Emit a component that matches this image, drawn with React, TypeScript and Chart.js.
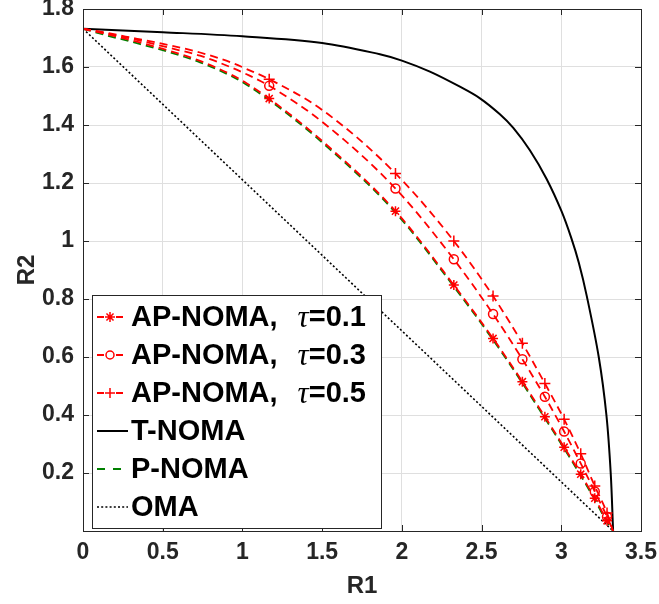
import React, { useEffect, useRef } from "react";
import { Chart, registerables } from "chart.js";

Chart.register(...registerables);

// ---------- data ----------
const X_TICKS = [0, 0.5, 1, 1.5, 2, 2.5, 3, 3.5];
const Y_TICKS = [0.2, 0.4, 0.6, 0.8, 1, 1.2, 1.4, 1.6, 1.8];

// R1 positions where markers are drawn on the AP-NOMA curves
const MARKER_R1 = [1.168, 1.96, 2.326, 2.572, 2.756, 2.897, 3.018, 3.122, 3.21, 3.287];

// shared R1 samples for AP-NOMA / P-NOMA curves
const AP_R1 = [0, 0.128, 0.332, 0.535, 0.734, 0.932, 1.026, 1.168, 1.5, 1.96, 2.326, 2.572, 2.756, 2.897, 3.018, 3.122, 3.21, 3.287, 3.325];
const AP01_R2 = [1.732, 1.716, 1.688, 1.657, 1.621, 1.573, 1.544, 1.491, 1.345, 1.103, 0.848, 0.664, 0.515, 0.394, 0.289, 0.196, 0.113, 0.035, 0];
const AP03_R2 = [1.732, 1.718, 1.694, 1.667, 1.639, 1.598, 1.575, 1.535, 1.411, 1.181, 0.937, 0.748, 0.592, 0.463, 0.343, 0.233, 0.136, 0.049, 0];
const AP05_R2 = [1.732, 1.72, 1.698, 1.676, 1.65, 1.615, 1.593, 1.558, 1.452, 1.233, 1.0, 0.81, 0.647, 0.509, 0.385, 0.266, 0.155, 0.062, 0];
const PNOMA_R2 = [1.732, 1.712, 1.683, 1.652, 1.616, 1.568, 1.539, 1.486, 1.34, 1.098, 0.843, 0.659, 0.51, 0.389, 0.284, 0.191, 0.108, 0.03, 0];

const TNOMA_R1 = [0, 0.5, 1.0, 1.5, 1.862, 2.0, 2.176, 2.364, 2.49, 2.615, 2.699, 2.803, 2.908, 3.002, 3.063, 3.11, 3.16, 3.235, 3.283, 3.31, 3.325];
const TNOMA_R2 = [1.732, 1.72, 1.706, 1.683, 1.644, 1.622, 1.584, 1.532, 1.492, 1.437, 1.39, 1.313, 1.214, 1.102, 1.01, 0.925, 0.81, 0.6, 0.4, 0.2, 0];

const OMA_R1 = [0, 3.325];
const OMA_R2 = [1.732, 0];

const LABELS = ["AP-NOMA, τ=0.1", "AP-NOMA, τ=0.3", "AP-NOMA, τ=0.5", "T-NOMA", "P-NOMA", "OMA"];

// ---------- helpers ----------
const pts = (xs: number[], ys: number[]) => xs.map((x, i) => ({ x, y: ys[i] }));
const isMarker = (x: number) => MARKER_R1.some((m) => Math.abs(m - x) < 1e-9);

const SANS = '"Liberation Sans", Arial, Helvetica, sans-serif';
const AXIS_COLOR = "#262626";
const RED = "#ff0000";
const GREEN = "#008000";

function drawMarker(ctx: CanvasRenderingContext2D, style: string, x: number, y: number, r: number) {
  ctx.beginPath();
  if (style === "circle") {
    ctx.arc(x, y, r, 0, Math.PI * 2);
  } else if (style === "cross") {
    ctx.moveTo(x - r, y); ctx.lineTo(x + r, y);
    ctx.moveTo(x, y - r); ctx.lineTo(x, y + r);
  } else if (style === "star") {
    ctx.moveTo(x - r, y); ctx.lineTo(x + r, y);
    ctx.moveTo(x, y - r); ctx.lineTo(x, y + r);
    const d = r * Math.SQRT1_2;
    ctx.moveTo(x - d, y - d); ctx.lineTo(x + d, y + d);
    ctx.moveTo(x - d, y + d); ctx.lineTo(x + d, y - d);
  }
  ctx.stroke();
}

const framePlugin = {
  id: "frameAndLegend",
  afterDraw(chart: any) {
    const ctx: CanvasRenderingContext2D = chart.ctx;
    const { left, right, top, bottom } = chart.chartArea;
    const xs = chart.scales.x;
    const ys = chart.scales.y;
    ctx.save();
    // box
    ctx.strokeStyle = AXIS_COLOR;
    ctx.lineWidth = 1;
    ctx.setLineDash([]);
    ctx.strokeRect(Math.round(left) + 0.5, Math.round(top) + 0.5, Math.round(right - left), Math.round(bottom - top));
    // inward ticks
    const tl = 6;
    ctx.beginPath();
    X_TICKS.forEach((v) => {
      const p = Math.round(xs.getPixelForValue(v)) + 0.5;
      ctx.moveTo(p, bottom); ctx.lineTo(p, bottom - tl);
      ctx.moveTo(p, top); ctx.lineTo(p, top + tl);
    });
    Y_TICKS.forEach((v) => {
      const p = Math.round(ys.getPixelForValue(v)) + 0.5;
      ctx.moveTo(left, p); ctx.lineTo(left + tl, p);
      ctx.moveTo(right, p); ctx.lineTo(right - tl, p);
    });
    ctx.stroke();

    // legend
    const bx = left + 9.5, by = top + 286.5, bw = 289, bh = 233;
    ctx.fillStyle = "#ffffff";
    ctx.fillRect(bx, by, bw, bh);
    ctx.strokeStyle = AXIS_COLOR;
    ctx.lineWidth = 1;
    ctx.strokeRect(bx, by, bw, bh);

    const sx0 = left + 14, textX = left + 48;
    const row0 = top + 308, rowGap = 38;
    chart.data.datasets.forEach((ds: any, i: number) => {
      const y = row0 + i * rowGap;
      ctx.strokeStyle = ds.borderColor;
      ctx.lineWidth = ds.borderWidth;
      ctx.setLineDash([]);
      if (ds.legendKind === "marker") {
        ctx.beginPath();
        ctx.moveTo(sx0, y); ctx.lineTo(sx0 + 7, y);
        ctx.moveTo(sx0 + 19, y); ctx.lineTo(sx0 + 26, y);
        ctx.stroke();
        ctx.lineWidth = 1.5;
        drawMarker(ctx, ds.pointStyle, sx0 + 13, y, ds.pointStyle === "circle" ? 4 : 5);
      } else if (ds.legendKind === "dash") {
        ctx.beginPath();
        ctx.moveTo(sx0, y); ctx.lineTo(sx0 + 8, y);
        ctx.moveTo(sx0 + 16, y); ctx.lineTo(sx0 + 24, y);
        ctx.stroke();
      } else {
        ctx.setLineDash(ds.borderDash || []);
        ctx.beginPath();
        ctx.moveTo(sx0, y); ctx.lineTo(sx0 + 31, y);
        ctx.stroke();
        ctx.setLineDash([]);
      }
      // text
      ctx.fillStyle = "#000000";
      ctx.textBaseline = "middle";
      ctx.textAlign = "left";
      const label: string = ds.label;
      const ti = label.indexOf("τ");
      const boldFont = `bold 29px ${SANS}`;
      if (ti >= 0) {
        const a = label.slice(0, ti).trimEnd();
        const b = label.slice(ti + 1);
        ctx.font = boldFont;
        ctx.fillText(a, textX, y + 1);
        let x = textX + ctx.measureText(a).width + 20;
        ctx.font = `italic 31px "Liberation Serif", "DejaVu Serif", serif`;
        ctx.fillText("τ", x, y + 2);
        x += ctx.measureText("τ").width;
        ctx.font = boldFont;
        ctx.fillText(b, x, y + 1);
      } else {
        ctx.font = boldFont;
        ctx.fillText(label, textX, y + 1);
      }
    });
    ctx.restore();
  },
};

const tickFont = { family: SANS, weight: "bold" as const, size: 23 };
const titleFont = { family: SANS, weight: "bold" as const, size: 24 };

export default function App() {
  const ref = useRef<HTMLCanvasElement | null>(null);

  useEffect(() => {
    if (!ref.current) return;
    const markerRadius = (r: number) => (c: any) => (c.raw && isMarker(c.raw.x) ? r : 0);
    const apBase = {
      showLine: true,
      borderColor: RED,
      borderWidth: 1.8,
      borderDash: [8, 5],
      pointBorderColor: RED,
      pointBackgroundColor: "rgba(0,0,0,0)",
      pointBorderWidth: 1.5,
      cubicInterpolationMode: "monotone" as const,
      legendKind: "marker",
    };
    const chart = new Chart(ref.current, {
      type: "scatter",
      data: {
        datasets: [
          { ...apBase, label: LABELS[0], data: pts(AP_R1, AP01_R2), pointStyle: "star", pointRadius: markerRadius(5) },
          { ...apBase, label: LABELS[1], data: pts(AP_R1, AP03_R2), pointStyle: "circle", pointRadius: markerRadius(4.5) },
          { ...apBase, label: LABELS[2], data: pts(AP_R1, AP05_R2), pointStyle: "cross", pointRadius: markerRadius(5.5) },
          {
            label: LABELS[3], data: pts(TNOMA_R1, TNOMA_R2), showLine: true, borderColor: "#000000", borderWidth: 2,
            pointRadius: 0, tension: 0.35, legendKind: "solid",
          },
          {
            label: LABELS[4], data: pts(AP_R1, PNOMA_R2), showLine: true, borderColor: GREEN, borderWidth: 1.8,
            borderDash: [8, 5], pointRadius: 0, cubicInterpolationMode: "monotone", legendKind: "dash",
          },
          {
            label: LABELS[5], data: pts(OMA_R1, OMA_R2), showLine: true, borderColor: "#000000", borderWidth: 1.6,
            borderDash: [2, 2.2], pointRadius: 0, legendKind: "dotted",
          },
        ] as any,
      },
      options: {
        animation: false,
        responsive: true,
        maintainAspectRatio: false,
        layout: { padding: { left: 0, right: 18, top: 9, bottom: 0 } },
        plugins: { legend: { display: false }, tooltip: { enabled: false } },
        events: [],
        scales: {
          x: {
            type: "linear",
            min: 0,
            max: 3.5,
            afterBuildTicks: (s: any) => { s.ticks = X_TICKS.map((v) => ({ value: v })); },
            afterFit: (s: any) => { s.height = 73; s.paddingLeft = 0; s.paddingRight = 0; },
            ticks: { padding: 8, font: tickFont, color: AXIS_COLOR, maxRotation: 0, autoSkip: false, callback: (v: any) => String(v) },
            grid: { color: "#dfdfdf", drawTicks: false, lineWidth: 1 },
            border: { display: false },
            title: { display: true, text: "R1", font: titleFont, color: AXIS_COLOR, padding: { top: 0, bottom: 3 } },
          },
          y: {
            type: "linear",
            min: 0,
            max: 1.8,
            afterBuildTicks: (s: any) => { s.ticks = Y_TICKS.map((v) => ({ value: v })); },
            afterFit: (s: any) => { s.width = 83; s.paddingTop = 0; s.paddingBottom = 0; },
            ticks: { padding: 9, font: tickFont, color: AXIS_COLOR, autoSkip: false, callback: (v: any) => String(v) },
            grid: { color: "#dfdfdf", drawTicks: false, lineWidth: 1 },
            border: { display: false },
            title: { display: true, text: "R2", font: titleFont, color: AXIS_COLOR, padding: { top: 13, bottom: 0 } },
          },
        },
      } as any,
      plugins: [framePlugin],
    });
    return () => chart.destroy();
  }, []);

  return (
    <div style={{ position: "fixed", left: 0, top: 0, width: 659, height: 604, background: "#ffffff" }}>
      <canvas ref={ref} />
    </div>
  );
}
